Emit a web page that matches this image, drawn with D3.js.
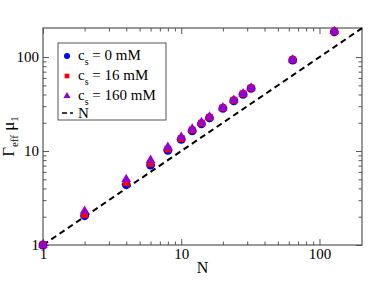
<!DOCTYPE html>
<meta charset="utf-8">
<style>
body { margin: 0; background: #fff; }
svg text { font-family: "Liberation Serif", "DejaVu Serif", serif; fill: #000; }
.frame { fill: none; stroke: #555; stroke-width: 1.2px; }
.tick line { stroke: #555; }
.diag { fill: none; stroke: #000; stroke-width: 2px; stroke-dasharray: 6,4; }
</style>
<body>
<script src="https://d3js.org/d3.v7.min.js"></script>
<script>

var nValues = [1, 2, 4, 6, 8, 10, 12, 14, 16, 20, 24, 28, 32, 64, 128];
var cs0 = [1, 2.05, 4.4, 7.1, 10.2, 13.3, 16.4, 19.5, 22.5, 28.5, 34.3, 40.2, 46.5, 93, 186];
var cs16 = [1, 2.1, 4.6, 7.4, 10.5, 13.6, 16.8, 19.8, 22.9, 28.8, 34.7, 40.6, 46.9, 93.5, 187];
var cs160 = [1, 2.3, 5.0, 8.0, 11.0, 14.1, 17.2, 20.2, 23.2, 29.0, 35.0, 40.8, 47.1, 93.8, 188];
var majorTicks = [1, 10, 100];
var minorTicks = [2, 3, 4, 5, 6, 7, 8, 9, 20, 30, 40, 50, 60, 70, 80, 90];
var seriesNames = ["0 mM", "16 mM", "160 mM"];

var margin = {top: 28, right: 12, bottom: 44, left: 43},
    width = 374 - margin.left - margin.right,
    height = 289 - margin.top - margin.bottom;

var x = d3.scaleLog().domain([1, 203]).range([0, width]);
var y = d3.scaleLog().domain([1, 204]).range([height, 0]);

var svg = d3.select("body").append("svg")
    .attr("width", 374)
    .attr("height", 289)
  .append("g")
    .attr("transform", "translate(" + margin.left + "," + margin.top + ")");

// ticks inward on all four sides, labels only on the majors
[[majorTicks, 6, true], [minorTicks, 3.5, false]].forEach(function(t) {
  var fmt = t[2] ? d3.format("d") : function() { return ""; };
  svg.append("g")
      .attr("transform", "translate(0," + height + ")")
      .call(d3.axisBottom(x).tickValues(t[0]).tickSize(-t[1]).tickPadding(t[2] ? 3.5 : 0).tickFormat(fmt))
      .call(function(g) { g.select(".domain").remove(); g.selectAll("text").style("font-size", "15px"); });
  svg.append("g")
      .call(d3.axisTop(x).tickValues(t[0]).tickSize(-t[1]).tickFormat(""))
      .call(function(g) { g.select(".domain").remove(); });
  svg.append("g")
      .call(d3.axisLeft(y).tickValues(t[0]).tickSize(-t[1]).tickPadding(t[2] ? 4 : 0).tickFormat(fmt))
      .call(function(g) { g.select(".domain").remove(); g.selectAll("text").style("font-size", "15px"); });
  svg.append("g")
      .attr("transform", "translate(" + width + ",0)")
      .call(d3.axisRight(y).tickValues(t[0]).tickSize(-t[1]).tickFormat(""))
      .call(function(g) { g.select(".domain").remove(); });
});

svg.append("rect")
    .attr("class", "frame")
    .attr("width", width)
    .attr("height", height);

// y = N reference line
svg.append("path")
    .datum([1, 203])
    .attr("class", "diag")
    .attr("d", d3.line().x(function(d) { return x(d); }).y(function(d) { return y(d); }));

var series = [
  {vals: cs0, color: "#0000ff", sym: d3.symbolCircle, size: 62},
  {vals: cs16, color: "#ff0000", sym: d3.symbolSquare, size: 46},
  {vals: cs160, color: "#9400d3", sym: d3.symbolTriangle, size: 40}
];

series.forEach(function(s) {
  svg.append("g").selectAll("path")
      .data(s.vals)
    .enter().append("path")
      .attr("transform", function(d, i) { return "translate(" + x(nValues[i]) + "," + y(d) + ")"; })
      .attr("d", d3.symbol().type(s.sym).size(s.size))
      .style("fill", s.color);
});

// legend
var legend = svg.append("g").attr("transform", "translate(15,15)");
legend.append("rect")
    .attr("width", 108)
    .attr("height", 77)
    .style("fill", "#fff")
    .style("stroke", "#555")
    .style("stroke-width", 1);

var legendSizes = [28, 22, 22];
series.forEach(function(s, i) {
  var row = legend.append("g").attr("transform", "translate(0," + (12 + i * 20) + ")");
  row.append("path")
      .attr("transform", "translate(9,1)")
      .attr("d", d3.symbol().type(s.sym).size(legendSizes[i]))
      .style("fill", s.color);
  var t = row.append("text").attr("x", 20).attr("y", 4.5).style("font-size", "15px");
  t.append("tspan").text("c");
  t.append("tspan").attr("dy", 5).style("font-size", "10px").text("s");
  t.append("tspan").attr("dy", -5).text(" = " + seriesNames[i]);
});
var lastRow = legend.append("g").attr("transform", "translate(0,70)");
lastRow.append("line")
    .attr("x1", 4).attr("x2", 15)
    .style("stroke", "#000").style("stroke-width", 1.5).style("stroke-dasharray", "5,3");
lastRow.append("text").attr("x", 20).attr("y", 5).style("font-size", "15px").text("N");

// axis labels
svg.append("text")
    .attr("x", width / 2)
    .attr("y", height + 28)
    .attr("text-anchor", "middle")
    .style("font-size", "16px")
    .text("N");

var yl = svg.append("text")
    .attr("transform", "translate(-29," + (height / 2) + ") rotate(-90)")
    .attr("text-anchor", "middle")
    .style("font-size", "17px");
yl.append("tspan").text("Γ");
yl.append("tspan").attr("dy", 4).style("font-size", "11px").text("eff");
yl.append("tspan").attr("dy", -4).text(" μ");
yl.append("tspan").attr("dy", 4).style("font-size", "11px").text("1");

</script>
</body>
